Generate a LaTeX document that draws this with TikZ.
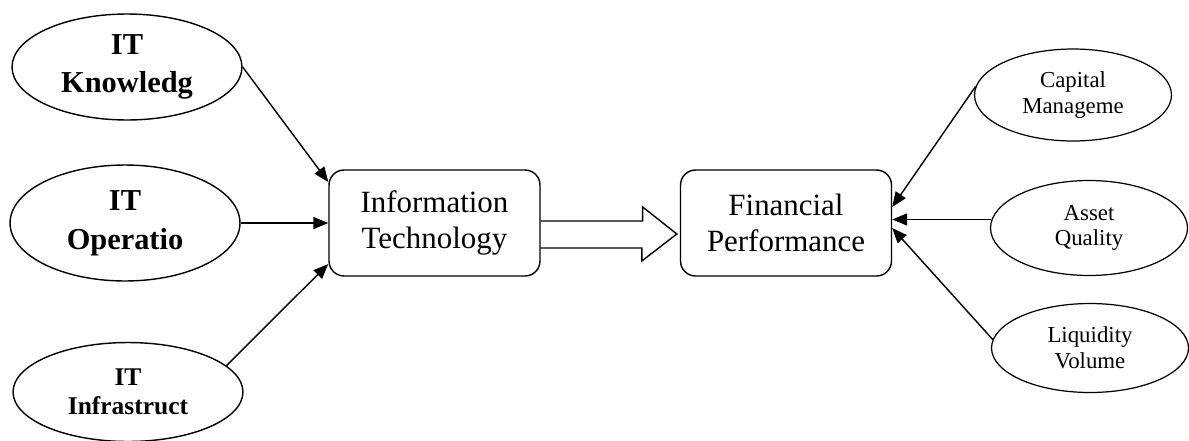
\documentclass[tikz,border=0pt]{standalone}
\usepackage{fontspec}
\setmainfont{Liberation Serif}
\usetikzlibrary{shapes.geometric,arrows.meta}

\begin{document}
\begin{tikzpicture}[x=0.02cm,y=-0.02cm,
	leftell/.style={draw,ellipse,line width=0.8pt,inner sep=0pt,minimum width=4.6cm,align=center,font=\bfseries\fontsize{17.3}{22}\selectfont},
	rightell/.style={draw,ellipse,line width=0.7pt,inner sep=0pt,minimum width=3.94cm,align=center,font=\fontsize{13}{14.7}\selectfont},
	mainbox/.style={draw,rounded corners=0.3cm,line width=0.8pt,minimum width=4.22cm,minimum height=2.12cm,align=center,font=\fontsize{17.6}{20.5}\selectfont},
	arr/.style={line width=0.8pt,-{Triangle[length=0.3cm,width=0.24cm]}}]

	\useasboundingbox (0,0) rectangle (1189,440);

	\node[leftell,minimum height=2.12cm] (itk) at (127,67) {IT\\Knowledg};
	\node[leftell,minimum height=2.32cm] (ito) at (125,223) {IT\\Operatio};
	\node[leftell,minimum height=1.98cm,font=\bfseries\fontsize{14.5}{16.4}\selectfont] (iti) at (128,392) {IT\\Infrastruct};

	\node[mainbox] (itbox) at (434.5,223) {Information\\Technology};
	\node[mainbox] (fpbox) at (786,223) {Financial\\Performance};

	\node[rightell,minimum height=1.84cm] (cap) at (1073,95) {Capital\\Manageme};
	\node[rightell,minimum height=1.9cm] (asset) at (1089,228) {Asset\\Quality};
	\node[rightell,minimum height=1.78cm] (liq) at (1090,348) {Liquidity\\Volume};

	\draw[arr] (itk.east) -- ([yshift=0.82cm]itbox.west);
	\draw[arr] (ito.east) -- (itbox.west);
	\draw[arr] (iti.15) -- ([yshift=-0.82cm]itbox.west);

	\coordinate (tip) at ([xshift=-0.06cm,yshift=-0.22cm]fpbox.west);
	\draw[line width=0.8pt] ([yshift=0.04cm]itbox.east) -- ++(102,0) -- ++(0,-14) -- (tip)
		-- ++(-35,27) -- ++(0,-13) -- ([yshift=-0.5cm]itbox.east);

	\draw[arr] (cap.175) -- ([yshift=0.32cm]fpbox.east);
	\draw[arr] (asset.175) -- (asset.175 -| fpbox.east);
	\draw[arr] (liq.175) -- ([yshift=-0.1cm]fpbox.east);

\end{tikzpicture}
\end{document}
